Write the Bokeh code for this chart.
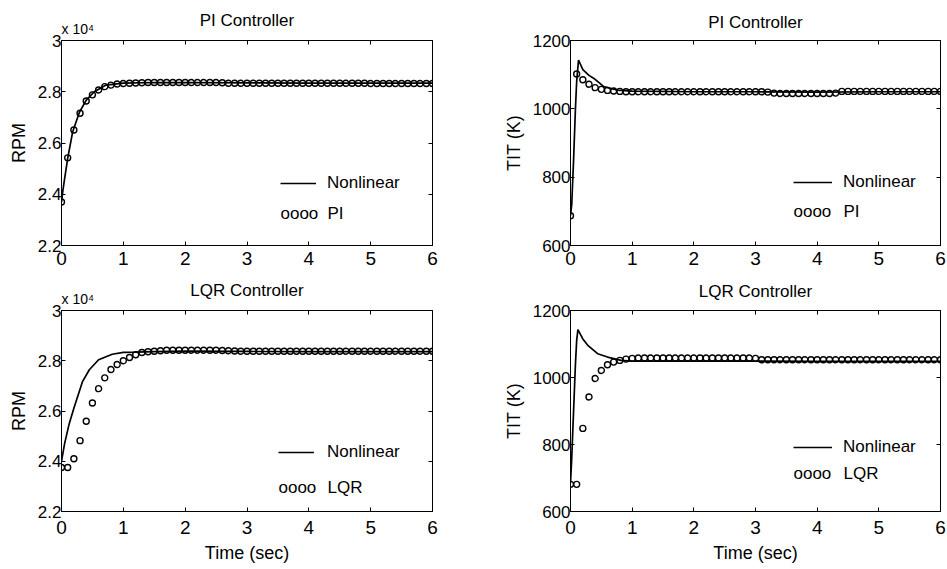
from bokeh.plotting import figure
from bokeh.layouts import row, column
from bokeh.models import (Range1d, FixedTicker, LinearAxis, CustomJSTickFormatter,
                          CustomLabelingPolicy, Label, Legend, LegendItem, Title)
from bokeh.embed import file_html
from bokeh.resources import INLINE

FONT = "Liberation Sans"

# ---------------- data ----------------
x_ticks = [0, 1, 2, 3, 4, 5, 6]
rpm_ticks = [2.2, 2.4, 2.6, 2.8, 3.0]
tit_ticks = [600, 800, 1000, 1200]

# sample times of the linearised-model markers (s)
t_marks = [0.0, 0.1, 0.2, 0.3, 0.4, 0.5, 0.6, 0.7, 0.8, 0.9,
           1.0, 1.1, 1.2, 1.3, 1.4, 1.5, 1.6, 1.7, 1.8, 1.9,
           2.0, 2.1, 2.2, 2.3, 2.4, 2.5, 2.6, 2.7, 2.8, 2.9,
           3.0, 3.1, 3.2, 3.3, 3.4, 3.5, 3.6, 3.7, 3.8, 3.9,
           4.0, 4.1, 4.2, 4.3, 4.4, 4.5, 4.6, 4.7, 4.8, 4.9,
           5.0, 5.1, 5.2, 5.3, 5.4, 5.5, 5.6, 5.7, 5.8, 5.9, 6.0]

# RPM (x 10^4), PI controller
pi_rpm = [2.370, 2.542, 2.651, 2.716, 2.764, 2.788, 2.807, 2.820, 2.826, 2.830,
          2.832, 2.833, 2.834, 2.835, 2.836, 2.836, 2.836, 2.836, 2.836, 2.836,
          2.836, 2.836, 2.836, 2.836, 2.836, 2.836, 2.835, 2.833, 2.833, 2.833,
          2.833, 2.833, 2.833, 2.833, 2.833, 2.833, 2.833, 2.833, 2.833, 2.833,
          2.833, 2.833, 2.833, 2.833, 2.833, 2.833, 2.833, 2.833, 2.833, 2.833,
          2.832, 2.832, 2.832, 2.832, 2.832, 2.832, 2.832, 2.832, 2.832, 2.832, 2.832]
t_nl_pi_rpm = [0.0, 0.02, 0.05, 0.1, 0.18, 0.29, 0.4, 0.53, 0.72, 1.0, 1.5, 2.0, 3.0, 4.0, 5.0, 6.0]
nl_pi_rpm = [2.369, 2.41, 2.46, 2.54, 2.643, 2.72, 2.767, 2.80, 2.826, 2.834,
             2.836, 2.836, 2.835, 2.834, 2.834, 2.834]

# TIT (K), PI controller
pi_tit = [687, 1102, 1085, 1072, 1062, 1057, 1054, 1052, 1051, 1050,
          1050, 1050, 1050, 1050, 1050, 1050, 1050, 1050, 1050, 1050,
          1050, 1050, 1050, 1050, 1050, 1050, 1050, 1050, 1050, 1050,
          1050, 1050, 1049, 1046, 1045, 1045, 1045, 1045, 1045, 1045,
          1045, 1045, 1045, 1046, 1051, 1051, 1051, 1051, 1051, 1051,
          1051, 1051, 1051, 1051, 1051, 1051, 1051, 1051, 1051, 1051, 1051]
t_nl_pi_tit = [0.0, 0.02, 0.05, 0.08, 0.1, 0.13, 0.2, 0.3, 0.38, 0.54, 0.75, 1.0, 2.0, 3.0, 4.0, 5.0, 6.0]
nl_pi_tit = [687, 720, 850, 1000, 1080, 1143, 1115, 1098, 1089, 1065, 1055, 1052,
             1050, 1050, 1049, 1050, 1050]

# RPM (x 10^4), LQR controller
lqr_rpm = [2.375, 2.375, 2.410, 2.482, 2.559, 2.632, 2.689, 2.732, 2.765, 2.785,
           2.800, 2.813, 2.824, 2.833, 2.836, 2.838, 2.840, 2.842, 2.842, 2.842,
           2.842, 2.842, 2.842, 2.842, 2.842, 2.842, 2.841, 2.840, 2.839, 2.838,
           2.838, 2.838, 2.838, 2.838, 2.838, 2.838, 2.838, 2.838, 2.838, 2.838,
           2.838, 2.838, 2.838, 2.838, 2.838, 2.838, 2.838, 2.838, 2.838, 2.838,
           2.838, 2.838, 2.838, 2.838, 2.838, 2.838, 2.838, 2.838, 2.838, 2.838, 2.838]
t_nl_lqr_rpm = [0.0, 0.05, 0.12, 0.2, 0.34, 0.45, 0.6, 0.82, 1.0, 1.2, 1.5, 2.0, 3.0, 4.0, 5.0, 6.0]
nl_lqr_rpm = [2.40, 2.47, 2.545, 2.611, 2.717, 2.764, 2.804, 2.826, 2.833, 2.834,
              2.836, 2.838, 2.837, 2.836, 2.836, 2.836]

# TIT (K), LQR controller
lqr_tit = [681, 681, 848, 942, 997, 1021, 1038, 1046, 1051, 1055,
           1057, 1058, 1058, 1058, 1058, 1058, 1058, 1058, 1058, 1058,
           1058, 1058, 1058, 1058, 1058, 1058, 1058, 1058, 1058, 1058,
           1057, 1053, 1053, 1053, 1053, 1053, 1053, 1053, 1053, 1053,
           1053, 1053, 1053, 1053, 1053, 1053, 1053, 1053, 1053, 1053,
           1053, 1053, 1053, 1053, 1053, 1053, 1053, 1053, 1053, 1053, 1053]
t_nl_lqr_tit = [0.0, 0.02, 0.05, 0.08, 0.1, 0.12, 0.2, 0.28, 0.44, 0.6, 0.82, 1.0, 2.0, 3.0, 4.0, 5.0, 6.0]
nl_lqr_tit = [685, 760, 900, 1040, 1110, 1143, 1115, 1096, 1071, 1061, 1051, 1049,
              1049, 1049, 1048, 1048, 1048]

# ---------------- layout constants (pixels) ----------------
W_LEFT, W_RIGHT = 486, 460
FW_LEFT, FW_RIGHT = 371, 370
BL_LEFT, BL_RIGHT = 61, 84
ROW1 = (40, 205, 27)   # top border, frame height, bottom border
ROW2 = (38, 201, 57)


def make_panel(t_nl, y_nl, y_mk, yr, yticks, ylabel, title, ctrl,
               left_col, top_row, leg, title_stand, sci_stand=None):
    fw = FW_LEFT if left_col else FW_RIGHT
    bl = BL_LEFT if left_col else BL_RIGHT
    br = (W_LEFT if left_col else W_RIGHT) - fw - bl
    bt, fh, bb = ROW1 if top_row else ROW2
    p = figure(frame_width=fw, frame_height=fh,
               x_range=Range1d(0, 6), y_range=Range1d(*yr),
               output_backend="svg", toolbar_location=None,
               min_border_left=bl, min_border_right=br,
               min_border_top=bt, min_border_bottom=bb,
               background_fill_color="white", border_fill_color="white")
    p.xgrid.visible = False
    p.ygrid.visible = False
    p.outline_line_color = "black"
    p.outline_line_width = 1

    fmt = CustomJSTickFormatter(code="return String(Math.round(tick*10)/10);")
    for ax, ticks, size, stand in ((p.xaxis[0], x_ticks, "19px", 6 if top_row else 9),
                                   (p.yaxis[0], yticks, "17px", 0)):
        ax.ticker = FixedTicker(ticks=ticks)
        ax.formatter = fmt
        ax.major_tick_in = 4
        ax.major_tick_out = 0
        ax.minor_tick_in = 0
        ax.minor_tick_out = 0
        ax.axis_line_color = "black"
        ax.major_tick_line_color = "black"
        ax.major_label_text_font = FONT
        ax.major_label_text_font_size = size
        ax.major_label_text_color = "black"
        ax.major_label_standoff = stand
        ax.axis_label_text_font = FONT
        ax.axis_label_text_font_size = "18px"
        ax.axis_label_text_font_style = "normal"
        ax.axis_label_text_color = "black"
    p.yaxis.axis_label = ylabel
    p.yaxis.axis_label_standoff = 6
    if not top_row:
        p.xaxis.axis_label = "Time (sec)"
        p.xaxis.axis_label_standoff = 6

    # tick marks on the top and right edges of the box (no labels)
    for side, ticks in (("above", x_ticks), ("right", yticks)):
        ax = LinearAxis(ticker=FixedTicker(ticks=ticks),
                        major_label_policy=CustomLabelingPolicy(code="return new Set()"),
                        major_label_text_font_size="1px",
                        major_label_standoff=0,
                        major_tick_in=4, major_tick_out=0,
                        minor_tick_in=0, minor_tick_out=0,
                        axis_line_color="black")
        p.add_layout(ax, side)

    # exponent note and panel title
    if sci_stand is not None:
        p.add_layout(Title(text="x 10\u2074", align="left", offset=0,
                           text_font=FONT, text_font_size="14px",
                           text_font_style="normal", text_color="black",
                           standoff=sci_stand), "above")
    p.add_layout(Title(text=title, align="center",
                       text_font=FONT, text_font_size="17px",
                       text_font_style="normal", text_color="black",
                       standoff=title_stand), "above")

    r_line = p.line(t_nl, y_nl, line_color="black", line_width=1.7)
    p.scatter(t_marks, y_mk, marker="circle", size=6, fill_color=None,
              line_color="black", line_width=1.4)

    ymin = yr[0]
    lx, ly1, lx_text, ly2, gw = leg
    legend = Legend(items=[LegendItem(label="Nonlinear", renderers=[r_line])],
                    location=(lx, ly1 - 10), padding=0, margin=0, spacing=0,
                    glyph_width=gw, glyph_height=20, label_height=20,
                    label_standoff=lx_text - lx - gw,
                    border_line_alpha=0, background_fill_alpha=0,
                    label_text_font=FONT, label_text_font_size="17px",
                    label_text_color="black")
    p.add_layout(legend)
    p.add_layout(Label(x=0, y=ymin, x_offset=lx, y_offset=ly2, text="oooo",
                       text_align="left", text_baseline="middle",
                       text_font=FONT, text_font_size="17px", text_color="black"))
    p.add_layout(Label(x=0, y=ymin, x_offset=lx_text, y_offset=ly2, text=ctrl,
                       text_align="left", text_baseline="middle",
                       text_font=FONT, text_font_size="17px", text_color="black"))
    return p


p1 = make_panel(t_nl_pi_rpm, nl_pi_rpm, pi_rpm, (2.2, 3.0), rpm_ticks, "RPM",
                "PI Controller", "PI", True, True, (219, 62, 266, 32, 36),
                title_stand=-21, sci_stand=-1)
p2 = make_panel(t_nl_pi_tit, nl_pi_tit, pi_tit, (600, 1200), tit_ticks, "TIT (K)",
                "PI Controller", "PI", False, True, (223, 63, 273, 34, 39),
                title_stand=10)
p3 = make_panel(t_nl_lqr_rpm, nl_lqr_rpm, lqr_rpm, (2.2, 3.0), rpm_ticks, "RPM",
                "LQR Controller", "LQR", True, False, (217, 59, 266, 24, 36),
                title_stand=-21, sci_stand=-1)
p4 = make_panel(t_nl_lqr_tit, nl_lqr_tit, lqr_tit, (600, 1200), tit_ticks, "TIT (K)",
                "LQR Controller", "LQR", False, False, (223, 64, 273, 38, 39),
                title_stand=12)

layout = column(row(p1, p2), row(p3, p4))

open("out.html", "w").write(file_html(layout, INLINE))
